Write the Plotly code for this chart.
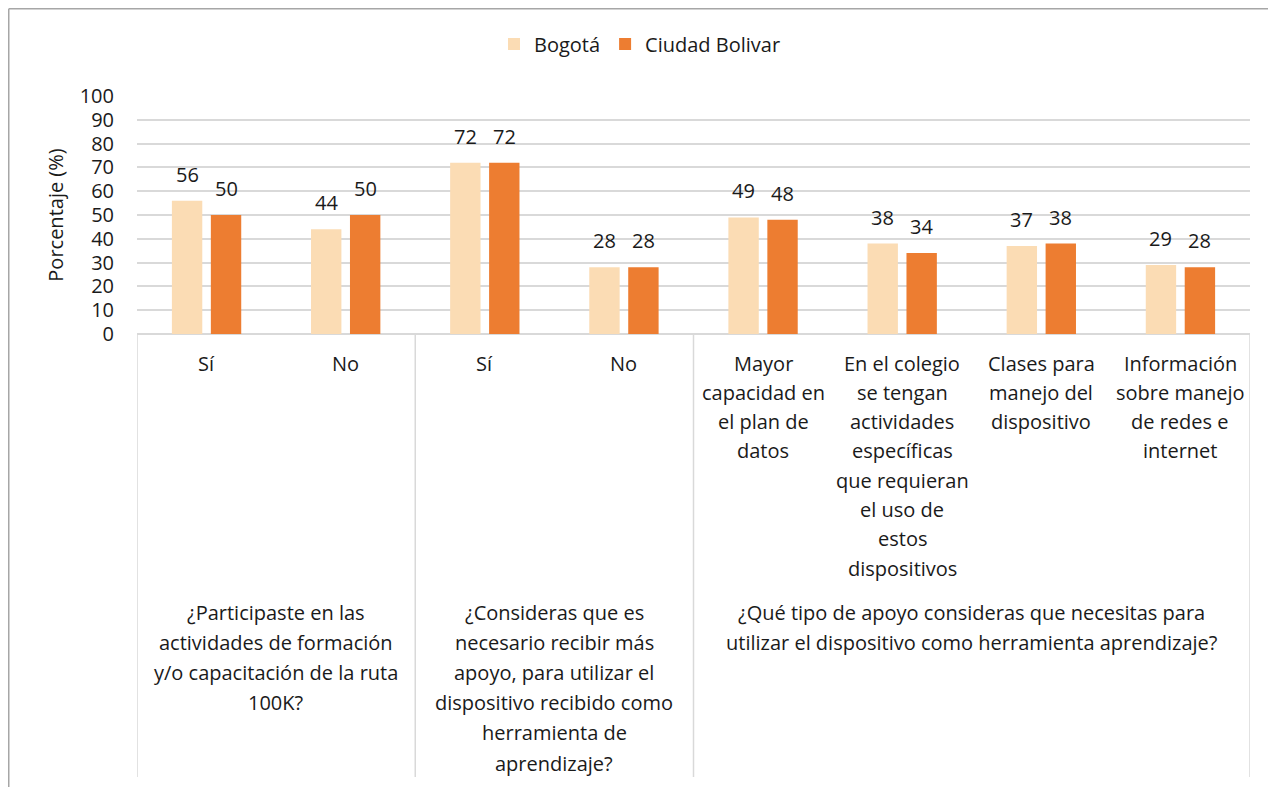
import plotly.graph_objects as go

# ---- data ----
categories = ["Sí", "No", "Sí", "No",
              "Mayor<br>capacidad en<br>el plan de<br>datos",
              "En el colegio<br>se tengan<br>actividades<br>específicas<br>que requieran<br>el uso de<br>estos<br>dispositivos",
              "Clases para<br>manejo del<br>dispositivo",
              "Información<br>sobre manejo<br>de redes e<br>internet"]
groups = ["¿Participaste en las<br>actividades de formación<br>y/o capacitación de la ruta<br>100K?",
          "¿Consideras que es<br>necesario recibir más<br>apoyo, para utilizar el<br>dispositivo recibido como<br>herramienta de<br>aprendizaje?",
          "¿Qué tipo de apoyo consideras que necesitas para<br>utilizar el dispositivo como herramienta aprendizaje?"]
group_sizes = [2, 2, 4]
bogota = [56, 44, 72, 28, 49, 38, 37, 29]
ciudad_bolivar = [50, 50, 72, 28, 48, 34, 38, 28]
series_names = ["Bogotá", "Ciudad Bolivar"]
y_ticks = [0, 10, 20, 30, 40, 50, 60, 70, 80, 90, 100]

# ---- geometry helpers (screen pixels -> paper); page body adds an 8px offset ----
OFF = 8
W, H = 1276 - OFF, 787 - OFF
LEFT, RIGHT, TOP, BOTTOM = 137, 1250, 96, 334   # plot area in screen pixels
ML, MT = LEFT - OFF, TOP - OFF
MR = W - (RIGHT - OFF)
MB = H - (BOTTOM - OFF)
PW = RIGHT - LEFT
PH = BOTTOM - TOP
def py(p):
    return (BOTTOM - p) / PH
def px(p):
    return (p - LEFT) / PW

FONT = "Open Sans"
TXT = "#1a1a1a"
GRID = "#d9d9d9"
FS = 20
xs = list(range(len(categories)))

fig = go.Figure()
fig.add_trace(go.Bar(x=xs, y=bogota, name=series_names[0],
                     marker=dict(color="#FBDCB4", line=dict(width=0))))
fig.add_trace(go.Bar(x=xs, y=ciudad_bolivar, name=series_names[1],
                     marker=dict(color="#ED7D31", line=dict(width=0))))

annotations = []
# data labels
off = 0.14
for i, (b, c) in enumerate(zip(bogota, ciudad_bolivar)):
    for dx, v in ((-off, b), (off, c)):
        annotations.append(dict(x=i + dx, y=v, xref="x", yref="y", text=str(v),
                                showarrow=False, yanchor="bottom", yshift=11,
                                font=dict(family=FONT, size=FS, color=TXT)))
# category labels, one line at a time
for i, lab in enumerate(categories):
    for k, line in enumerate(lab.split("<br>")):
        annotations.append(dict(x=i, y=py(363 + 29.3 * k), xref="x", yref="paper",
                                text=line, showarrow=False, yanchor="middle",
                                font=dict(family=FONT, size=FS, color=TXT)))
# group labels
start = 0
bounds = [-0.5]
for g, n in zip(groups, group_sizes):
    cx = start + (n - 1) / 2
    for k, line in enumerate(g.split("<br>")):
        annotations.append(dict(x=cx, y=py(612 + 30.2 * k), xref="x", yref="paper",
                                text=line, showarrow=False, yanchor="middle",
                                font=dict(family=FONT, size=FS, color=TXT)))
    start += n
    bounds.append(start - 0.5)

shapes = []
for b in bounds:
    shapes.append(dict(type="line", xref="x", yref="paper", x0=b, x1=b,
                       y0=0, y1=py(777), line=dict(color=GRID, width=1.5)))
# outer chart border (left and top edges visible in the frame)
shapes.append(dict(type="line", xref="paper", yref="paper",
                   x0=px(OFF + 0.75), x1=px(OFF + 0.75), y0=py(OFF + 0.75), y1=py(800),
                   line=dict(color="#a6a6a6", width=1.5)))
shapes.append(dict(type="line", xref="paper", yref="paper",
                   x0=px(OFF + 0.75), x1=px(1300), y0=py(OFF + 0.75), y1=py(OFF + 0.75),
                   line=dict(color="#a6a6a6", width=1.5)))

fig.update_layout(
    width=W, height=H,
    margin=dict(l=ML, r=MR, t=MT, b=MB),
    paper_bgcolor="white", plot_bgcolor="white",
    barmode="group", bargap=0.44, bargroupgap=0.22,
    font=dict(family=FONT, size=FS, color=TXT),
    legend=dict(orientation="h", x=px(640), y=py(44), xanchor="center",
                yanchor="middle", font=dict(family=FONT, size=FS, color=TXT),
                itemwidth=30, tracegroupgap=0),
    xaxis=dict(range=[-0.5, len(categories) - 0.5], showticklabels=False,
               showgrid=False, zeroline=False, showline=False, fixedrange=True),
    yaxis=dict(range=[0, 100], tickvals=y_ticks, showgrid=True, gridcolor=GRID,
               gridwidth=1.5, zeroline=True, zerolinecolor=GRID, zerolinewidth=1.5,
               showline=False, ticks="", ticklabelstandoff=22,
               tickfont=dict(family=FONT, size=FS, color=TXT),
               title=dict(text="Porcentaje (%)", standoff=10,
                          font=dict(family=FONT, size=FS, color=TXT))),
    annotations=annotations, shapes=shapes, showlegend=True,
)
fig.write_html("out.html")
